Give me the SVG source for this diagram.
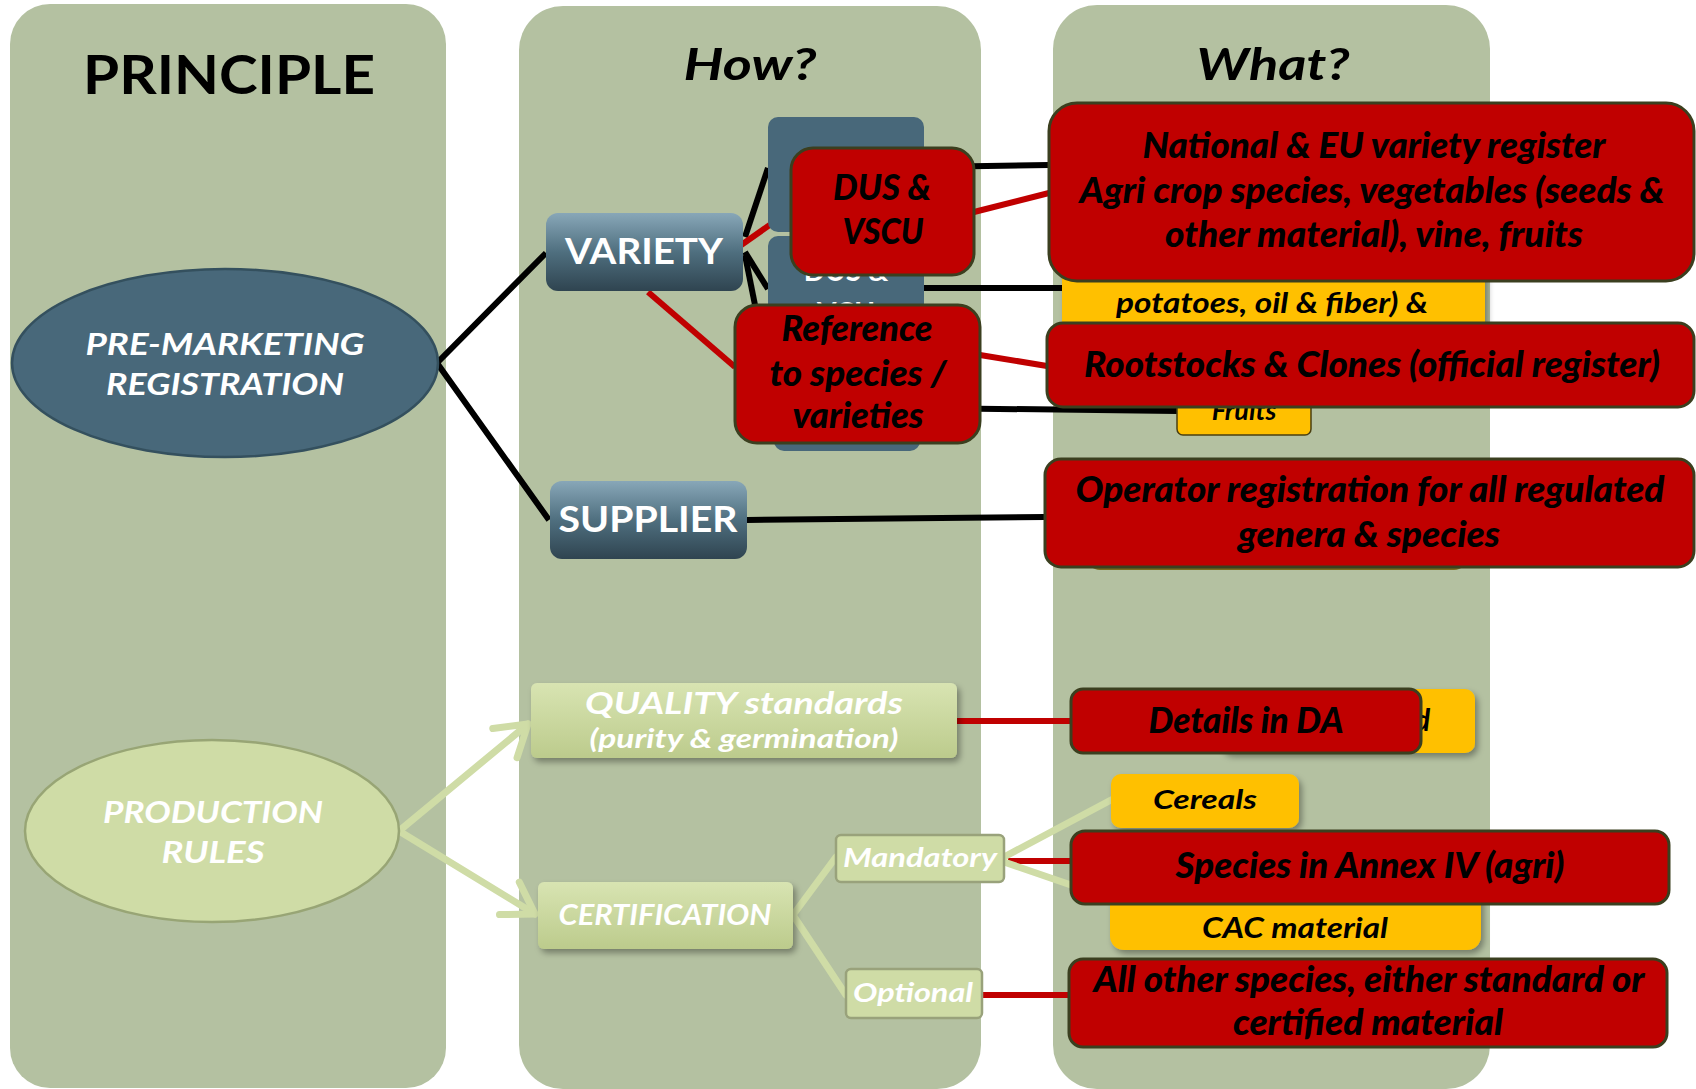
<svg xmlns="http://www.w3.org/2000/svg" width="1696" height="1089" viewBox="0 0 1696 1089">
<defs>
<linearGradient id="gSlate" x1="0" y1="0" x2="0" y2="1">
<stop offset="0" stop-color="#88a7b8"/><stop offset="0.5" stop-color="#4f6f7f"/><stop offset="1" stop-color="#2f4450"/>
</linearGradient>
<linearGradient id="gGreen" x1="0" y1="0" x2="0" y2="1">
<stop offset="0" stop-color="#d8e4b2"/><stop offset="1" stop-color="#bccb8c"/>
</linearGradient>
<filter id="shadow" x="-10%" y="-20%" width="130%" height="160%">
<feDropShadow dx="3" dy="4" stdDeviation="3" flood-color="#000" flood-opacity="0.35"/>
</filter>
<marker id="chev" markerUnits="userSpaceOnUse" markerWidth="10" markerHeight="10" refX="0" refY="0" orient="auto" overflow="visible">
<path d="M-30,-19 L0,0 L-30,19" fill="none" stroke="#cfdca6" stroke-width="7" stroke-linecap="round" stroke-linejoin="round"/>
</marker>
</defs>
<style>
.panel{fill:#b4c1a1}
.blk{stroke:#000;stroke-width:6;fill:none}
.red{stroke:#c00000;stroke-width:6;fill:none}
.lg{stroke:#cfdca6;stroke-width:7;fill:none;stroke-linecap:round}
.rbox{fill:#c00000;stroke:#3b3f1f;stroke-width:3}
.ybox{fill:#ffc000}
.slate{fill:#48687a}
.gbox{fill:url(#gGreen)}
.sbox{fill:url(#gSlate)}
.tag{fill:#cfdca6;stroke:#99a27b;stroke-width:2.5}
.rt{font-family:Lato,"Open Sans",sans-serif;font-weight:900;font-style:italic;font-size:36px;fill:#000;text-anchor:middle}
.wt{font-family:Lato,"Open Sans",sans-serif;font-weight:bold;font-style:italic;fill:#fff;text-anchor:middle}
.wb{font-family:Lato,"Open Sans",sans-serif;font-weight:bold;fill:#fff;text-anchor:middle}
.yt{font-family:Lato,"Open Sans",sans-serif;font-weight:bold;font-style:italic;fill:#000;text-anchor:middle}
.title{font-family:Lato,"Open Sans",sans-serif;font-weight:bold;fill:#000;text-anchor:middle}
</style>

<g id="panels">
<rect class="panel" x="10" y="4" width="436" height="1084" rx="40"/>
<rect class="panel" x="519" y="6" width="462" height="1083" rx="44"/>
<rect class="panel" x="1053" y="5" width="437" height="1084" rx="44"/>
<text class="title" x="229" y="94" font-size="54" textLength="292" lengthAdjust="spacingAndGlyphs">PRINCIPLE</text>
<text class="title" x="750" y="80" font-size="44" font-style="italic" textLength="133" lengthAdjust="spacingAndGlyphs">How?</text>
<text class="title" x="1273" y="80" font-size="44" font-style="italic" textLength="153" lengthAdjust="spacingAndGlyphs">What?</text>
</g>

<g id="connectors">
<path class="blk" d="M546,253 L437,363 L549,520"/>
<path class="blk" d="M745,237 L768,168"/>
<path class="blk" d="M745,252 L768,289"/>
<path class="blk" d="M745,255 L758,320"/>
<path class="blk" d="M924,167 L1049,165"/>
<path class="blk" d="M924,288 L1062,288"/>
<path class="blk" d="M920,408 L1177,411"/>
<path class="blk" d="M747,520 L1045,517"/>
<path class="red" d="M737,248 L791,210"/>
<path class="red" d="M648,292 L735,367"/>
<path class="red" d="M974,212 L1049,193"/>
<path class="red" d="M980,355 L1047,366"/>
<path class="red" d="M957,721 L1071,721"/>
<path class="red" d="M1008,861 L1071,861"/>
<path class="red" d="M982,995 L1069,995"/>
<path class="lg" d="M399,831 L528,724" marker-end="url(#chev)"/>
<path class="lg" d="M399,831 L535,914" marker-end="url(#chev)"/>
<path class="lg" d="M793,915 L836,857"/>
<path class="lg" d="M793,915 L846,995"/>
<path class="lg" d="M1004,857 L1111,800"/>
<path class="lg" d="M1004,862 L1071,885"/>
</g>

<g id="pre-marketing">
<ellipse cx="225" cy="363" rx="213" ry="94" fill="#48687a" stroke="#34505e" stroke-width="2.5"/>
<text class="wt" x="225" y="355" font-size="30" textLength="279" lengthAdjust="spacingAndGlyphs">PRE-MARKETING</text>
<text class="wt" x="225" y="395" font-size="30" textLength="238" lengthAdjust="spacingAndGlyphs">REGISTRATION</text>
</g>

<g id="production-rules">
<ellipse cx="212" cy="831" rx="187" ry="91" fill="#cfdca6" stroke="#98a575" stroke-width="2.5"/>
<text class="wt" x="213" y="823" font-size="30" textLength="220" lengthAdjust="spacingAndGlyphs">PRODUCTION</text>
<text class="wt" x="213" y="863" font-size="30" textLength="103" lengthAdjust="spacingAndGlyphs">RULES</text>
</g>

<g id="dus-vcu-hidden">
<rect class="slate" x="768" y="117" width="156" height="115" rx="10"/>
<rect class="slate" x="768" y="236" width="156" height="100" rx="10"/>
<text class="wb" x="846" y="281" font-size="28">DUS &amp;</text>
<text class="wb" x="846" y="323" font-size="28">VCU</text>
<rect class="slate" x="774" y="320" width="146" height="131" rx="10"/>
</g>

<g id="variety">
<rect class="sbox" x="546" y="213" width="197" height="78" rx="12"/>
<text class="wb" x="644" y="264" font-size="36" textLength="158" lengthAdjust="spacingAndGlyphs">VARIETY</text>
</g>

<g id="supplier">
<rect class="sbox" x="550" y="481" width="197" height="78" rx="12"/>
<text class="wb" x="648" y="532" font-size="36" textLength="179" lengthAdjust="spacingAndGlyphs">SUPPLIER</text>
</g>

<g id="yellow-agri">
<rect class="ybox" x="1062" y="240" width="423" height="120" rx="10" filter="url(#shadow)"/>
<text class="yt" x="1272" y="313" font-size="28" textLength="312" lengthAdjust="spacingAndGlyphs">potatoes, oil &amp; fiber) &amp;</text>
</g>

<g id="yellow-fruits">
<rect class="ybox" x="1177" y="370" width="134" height="65" rx="6" stroke="#4a3f10" stroke-width="1.5"/>
<text class="yt" x="1244" y="420" font-size="27">Fruits</text>
</g>

<g id="operator-hidden">
<rect x="1088" y="470" width="378" height="99" rx="12" fill="#3f5866" stroke="#7a6a20" stroke-width="2"/>
</g>

<g id="dus-vscu">
<rect class="rbox" x="791" y="148" width="183" height="127" rx="22"/>
<text class="rt" x="882" y="200" textLength="98" lengthAdjust="spacingAndGlyphs">DUS &amp;</text>
<text class="rt" x="883" y="244" textLength="81" lengthAdjust="spacingAndGlyphs">VSCU</text>
</g>

<g id="reference">
<rect class="rbox" x="735" y="305" width="245" height="138" rx="22"/>
<text class="rt" x="857" y="341" textLength="151" lengthAdjust="spacingAndGlyphs">Reference</text>
<text class="rt" x="858" y="386" textLength="177" lengthAdjust="spacingAndGlyphs">to species /</text>
<text class="rt" x="858" y="428" textLength="131" lengthAdjust="spacingAndGlyphs">varieties</text>
</g>

<g id="national-register">
<rect class="rbox" x="1049" y="103" width="645" height="178" rx="28"/>
<text class="rt" x="1374" y="158" textLength="463" lengthAdjust="spacingAndGlyphs">National &amp; EU variety register</text>
<text class="rt" x="1372" y="203" textLength="585" lengthAdjust="spacingAndGlyphs">Agri crop species, vegetables (seeds &amp;</text>
<text class="rt" x="1374" y="247" textLength="418" lengthAdjust="spacingAndGlyphs">other material), vine, fruits</text>
</g>

<g id="rootstocks">
<rect class="rbox" x="1047" y="323" width="647" height="84" rx="16"/>
<text class="rt" x="1372" y="377" textLength="576" lengthAdjust="spacingAndGlyphs">Rootstocks &amp; Clones (official register)</text>
</g>

<g id="operator">
<rect class="rbox" x="1045" y="459" width="649" height="108" rx="16"/>
<text class="rt" x="1370" y="502" textLength="589" lengthAdjust="spacingAndGlyphs">Operator registration for all regulated</text>
<text class="rt" x="1369" y="547" textLength="262" lengthAdjust="spacingAndGlyphs">genera &amp; species</text>
</g>

<g id="quality">
<rect class="gbox" x="531" y="683" width="426" height="75" rx="6" filter="url(#shadow)"/>
<text class="wt" x="744" y="714" font-size="31" textLength="318" lengthAdjust="spacingAndGlyphs">QUALITY standards</text>
<text class="wt" x="744" y="748" font-size="27" textLength="309" lengthAdjust="spacingAndGlyphs">(purity &amp; germination)</text>
</g>

<g id="certification">
<rect class="gbox" x="538" y="882" width="255" height="67" rx="6" filter="url(#shadow)"/>
<text class="wt" x="665" y="925" font-size="28" textLength="213" lengthAdjust="spacingAndGlyphs">CERTIFICATION</text>
</g>

<g id="mandatory">
<rect class="tag" x="836" y="835" width="168" height="47" rx="5"/>
<text class="wt" x="920" y="867" font-size="27" textLength="154" lengthAdjust="spacingAndGlyphs">Mandatory</text>
</g>

<g id="optional">
<rect class="tag" x="846" y="969" width="136" height="49" rx="5"/>
<text class="wt" x="913" y="1002" font-size="27" textLength="120" lengthAdjust="spacingAndGlyphs">Optional</text>
</g>

<g id="yellow-standard">
<rect class="ybox" x="1220" y="689" width="255" height="64" rx="10" filter="url(#shadow)"/>
<text class="yt" x="1414" y="731" font-size="30" style="text-anchor:start">d</text>
</g>

<g id="details">
<rect class="rbox" x="1071" y="689" width="350" height="64" rx="12"/>
<text class="rt" x="1246" y="733" textLength="195" lengthAdjust="spacingAndGlyphs">Details in DA</text>
</g>

<g id="cereals">
<rect class="ybox" x="1111" y="774" width="188" height="54" rx="10" filter="url(#shadow)"/>
<text class="yt" x="1205" y="809" font-size="27" textLength="104" lengthAdjust="spacingAndGlyphs">Cereals</text>
</g>

<g id="yellow-cac">
<rect class="ybox" x="1110" y="880" width="371" height="70" rx="14" filter="url(#shadow)"/>
<text class="yt" x="1295" y="938" font-size="28" textLength="186" lengthAdjust="spacingAndGlyphs">CAC material</text>
</g>

<g id="species-annex">
<rect class="rbox" x="1071" y="831" width="598" height="73" rx="14"/>
<text class="rt" x="1370" y="878" textLength="389" lengthAdjust="spacingAndGlyphs">Species in Annex IV (agri)</text>
</g>

<g id="all-other">
<rect class="rbox" x="1069" y="959" width="598" height="88" rx="14"/>
<text class="rt" x="1369" y="992" textLength="551" lengthAdjust="spacingAndGlyphs">All other species, either standard or</text>
<text class="rt" x="1368" y="1035" textLength="270" lengthAdjust="spacingAndGlyphs">certified material</text>
</g>
</svg>
